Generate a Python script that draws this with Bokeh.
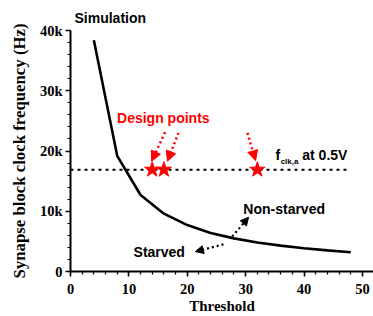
from bokeh.plotting import figure
from bokeh.models import (Label, Arrow, NormalHead, FixedTicker, Range1d)
from bokeh.embed import file_html
from bokeh.resources import INLINE

# ---- data ----
threshold = [4, 8, 12, 16, 20, 24, 28, 32, 36, 40, 44, 48]
freq = [38400, 19200, 12700, 9600, 7700, 6400, 5500, 4800, 4300, 3850, 3500, 3200]
design_x = [14, 16, 32]
fclk_level = 16900
fclk_line_x = [0, 47.5]
y_ticks = [0, 10000, 20000, 30000, 40000]
y_tick_labels = ["0", "10k", "20k", "30k", "40k"]
x_ticks = [0, 10, 20, 30, 40, 50]

SERIF = "Liberation Serif"
SANS = "Liberation Sans"

p = figure(width=373, height=316, output_backend="svg", toolbar_location=None,
           x_range=Range1d(0, 51.9), y_range=Range1d(0, 40000),
           min_border_left=70, min_border_right=0, min_border_top=30, min_border_bottom=44)
p.outline_line_color = None
p.xgrid.visible = False
p.ygrid.visible = False
p.background_fill_color = "white"
p.border_fill_color = "white"

p.title.text = "Simulation"
p.title.align = "left"
p.title.offset = 4
p.title.standoff = 10
p.title.text_font = SANS
p.title.text_font_style = "bold"
p.title.text_font_size = "14px"
p.title.text_color = "black"

# axes
p.xaxis.ticker = FixedTicker(ticks=x_ticks, minor_ticks=list(range(0, 52, 2)))
p.yaxis.ticker = FixedTicker(ticks=y_ticks, minor_ticks=list(range(0, 40001, 2000)))
p.yaxis.major_label_overrides = {t: l for t, l in zip(y_ticks, y_tick_labels)}
for ax in (p.xaxis[0], p.yaxis[0]):
    ax.axis_line_width = 2
    ax.axis_line_color = "black"
    ax.major_tick_line_width = 1.5
    ax.minor_tick_line_width = 1.2
    ax.major_tick_out = 5
    ax.major_tick_in = 0
    ax.minor_tick_out = 3
    ax.minor_tick_in = 0
    ax.major_label_text_font = SERIF
    ax.major_label_text_font_style = "bold"
    ax.major_label_text_font_size = "14.5px"
    ax.major_label_text_color = "black"
    ax.axis_label_text_font = SERIF
    ax.axis_label_text_font_style = "bold"
    ax.axis_label_text_color = "black"
p.xaxis.axis_label = "Threshold"
p.yaxis.axis_label = "Synapse block clock frequency (Hz)"
p.xaxis.axis_label_text_font_size = "15px"
p.yaxis.axis_label_text_font_size = "16.8px"
p.xaxis.major_label_standoff = 7
p.xaxis.axis_label_standoff = 1
p.yaxis.major_label_standoff = 3
p.yaxis.axis_label_standoff = 8

# curve
p.line(threshold, freq, line_color="black", line_width=2.6)

# f_clk dotted line
p.line(fclk_line_x, [fclk_level, fclk_level], line_color="black", line_width=2, line_dash="3 4")

# design points
p.scatter(design_x, [fclk_level] * len(design_x), marker="star", size=16,
          fill_color="red", line_color="red")

# red arrows
red_arrows = [((16.2, 23100), (13.9, 18300)), ((18.5, 23000), (16.6, 18300)),
              ((30.3, 23000), (31.7, 18400))]
for (x0, y0), (x1, y1) in red_arrows:
    p.add_layout(Arrow(end=NormalHead(size=10, fill_color="red", line_color="red"),
                       x_start=x0, y_start=y0, x_end=x1, y_end=y1,
                       line_color="red", line_width=2.5, line_dash="2 3"))

# black arrows
black_arrows = [((26.2, 4500), (21.4, 3300)), ((27.7, 5800), (30.5, 9000))]
for (x0, y0), (x1, y1) in black_arrows:
    p.add_layout(Arrow(end=NormalHead(size=8, fill_color="black", line_color="black"),
                       x_start=x0, y_start=y0, x_end=x1, y_end=y1,
                       line_color="black", line_width=2.2, line_dash="2 3"))


def lab(x, y, t, size="14px", color="black", align="left", baseline="middle"):
    p.add_layout(Label(x=x, y=y, text=t, text_font=SANS, text_font_style="bold",
                       text_font_size=size, text_color=color, text_align=align,
                       text_baseline=baseline))


lab(15.9, 25500, "Design points", color="red", align="center")
lab(35.1, 19400, "f")
lab(36.0, 18300, "clk,a", size="8px")
lab(39.7, 19400, "at 0.5V")
lab(29.6, 10400, "Non-starved")
lab(10.8, 3300, "Starved")

open("out.html", "w").write(file_html(p, INLINE))
